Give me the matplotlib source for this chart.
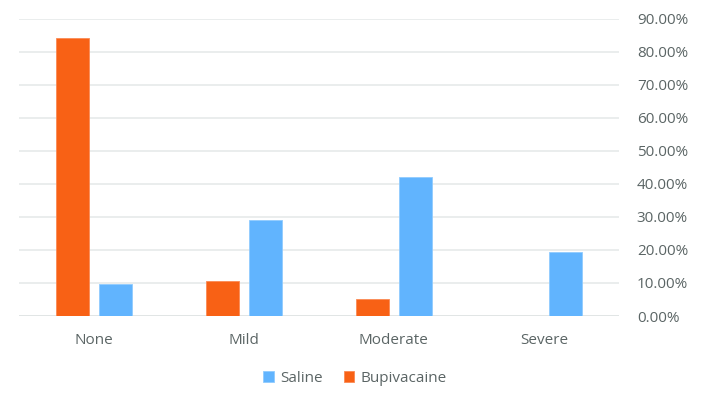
import matplotlib
matplotlib.use("Agg")
import matplotlib.pyplot as plt
import numpy as np
from matplotlib.ticker import FuncFormatter

categories = ["None", "Mild", "Moderate", "Severe"]
bupivacaine = [84.21, 10.53, 5.26, 0.0]
saline = [9.68, 29.03, 41.94, 19.35]
yticks = [0, 10, 20, 30, 40, 50, 60, 70, 80, 90]

plt.rcParams['font.family'] = ['Open Sans', 'DejaVu Sans']
text_color = '#5B6565'
orange = '#F86115'
blue = '#61B4FE'

fig = plt.figure(figsize=(7.07, 4.0), dpi=100)
ax = fig.add_axes([0.0265, 0.21, 0.8755 - 0.0265, 0.9533 - 0.21])

x = np.arange(len(categories))
w = 0.22
off = 0.142
ax.bar(x - off, bupivacaine, w, color=orange, edgecolor='#FA8A55', linewidth=0.6, label='Bupivacaine', zorder=3)
ax.bar(x + off, saline, w, color=blue, edgecolor='#90CBFE', linewidth=0.6, label='Saline', zorder=3)

ax.set_xlim(-0.5, len(categories) - 0.5)
ax.set_ylim(0, 90)
ax.set_yticks(yticks)
ax.yaxis.tick_right()
ax.yaxis.set_major_formatter(FuncFormatter(lambda v, p: f"{v:.2f}%"))
ax.tick_params(axis='y', length=0, pad=12.8, labelsize=11, labelcolor=text_color)
ax.set_xticks(x)
ax.set_xticklabels(categories)
ax.tick_params(axis='x', length=0, pad=12, labelsize=11, labelcolor=text_color)

ax.grid(axis='y', color='#E6EAEA', linewidth=1.2, zorder=0)
for s in ax.spines.values():
    s.set_visible(False)
ax.axhline(0, color='#E0E4E4', linewidth=1.2, zorder=2)

handles, labels = ax.get_legend_handles_labels()
leg = fig.legend([handles[1], handles[0]], [labels[1], labels[0]],
                 loc='center', bbox_to_anchor=(0.502, 0.055), ncol=2, frameon=False,
                 fontsize=11, handlelength=0.7, handleheight=0.7, handletextpad=0.4,
                 columnspacing=1.4)
for t in leg.get_texts():
    t.set_color(text_color)

fig.savefig("out.png", dpi=100)
